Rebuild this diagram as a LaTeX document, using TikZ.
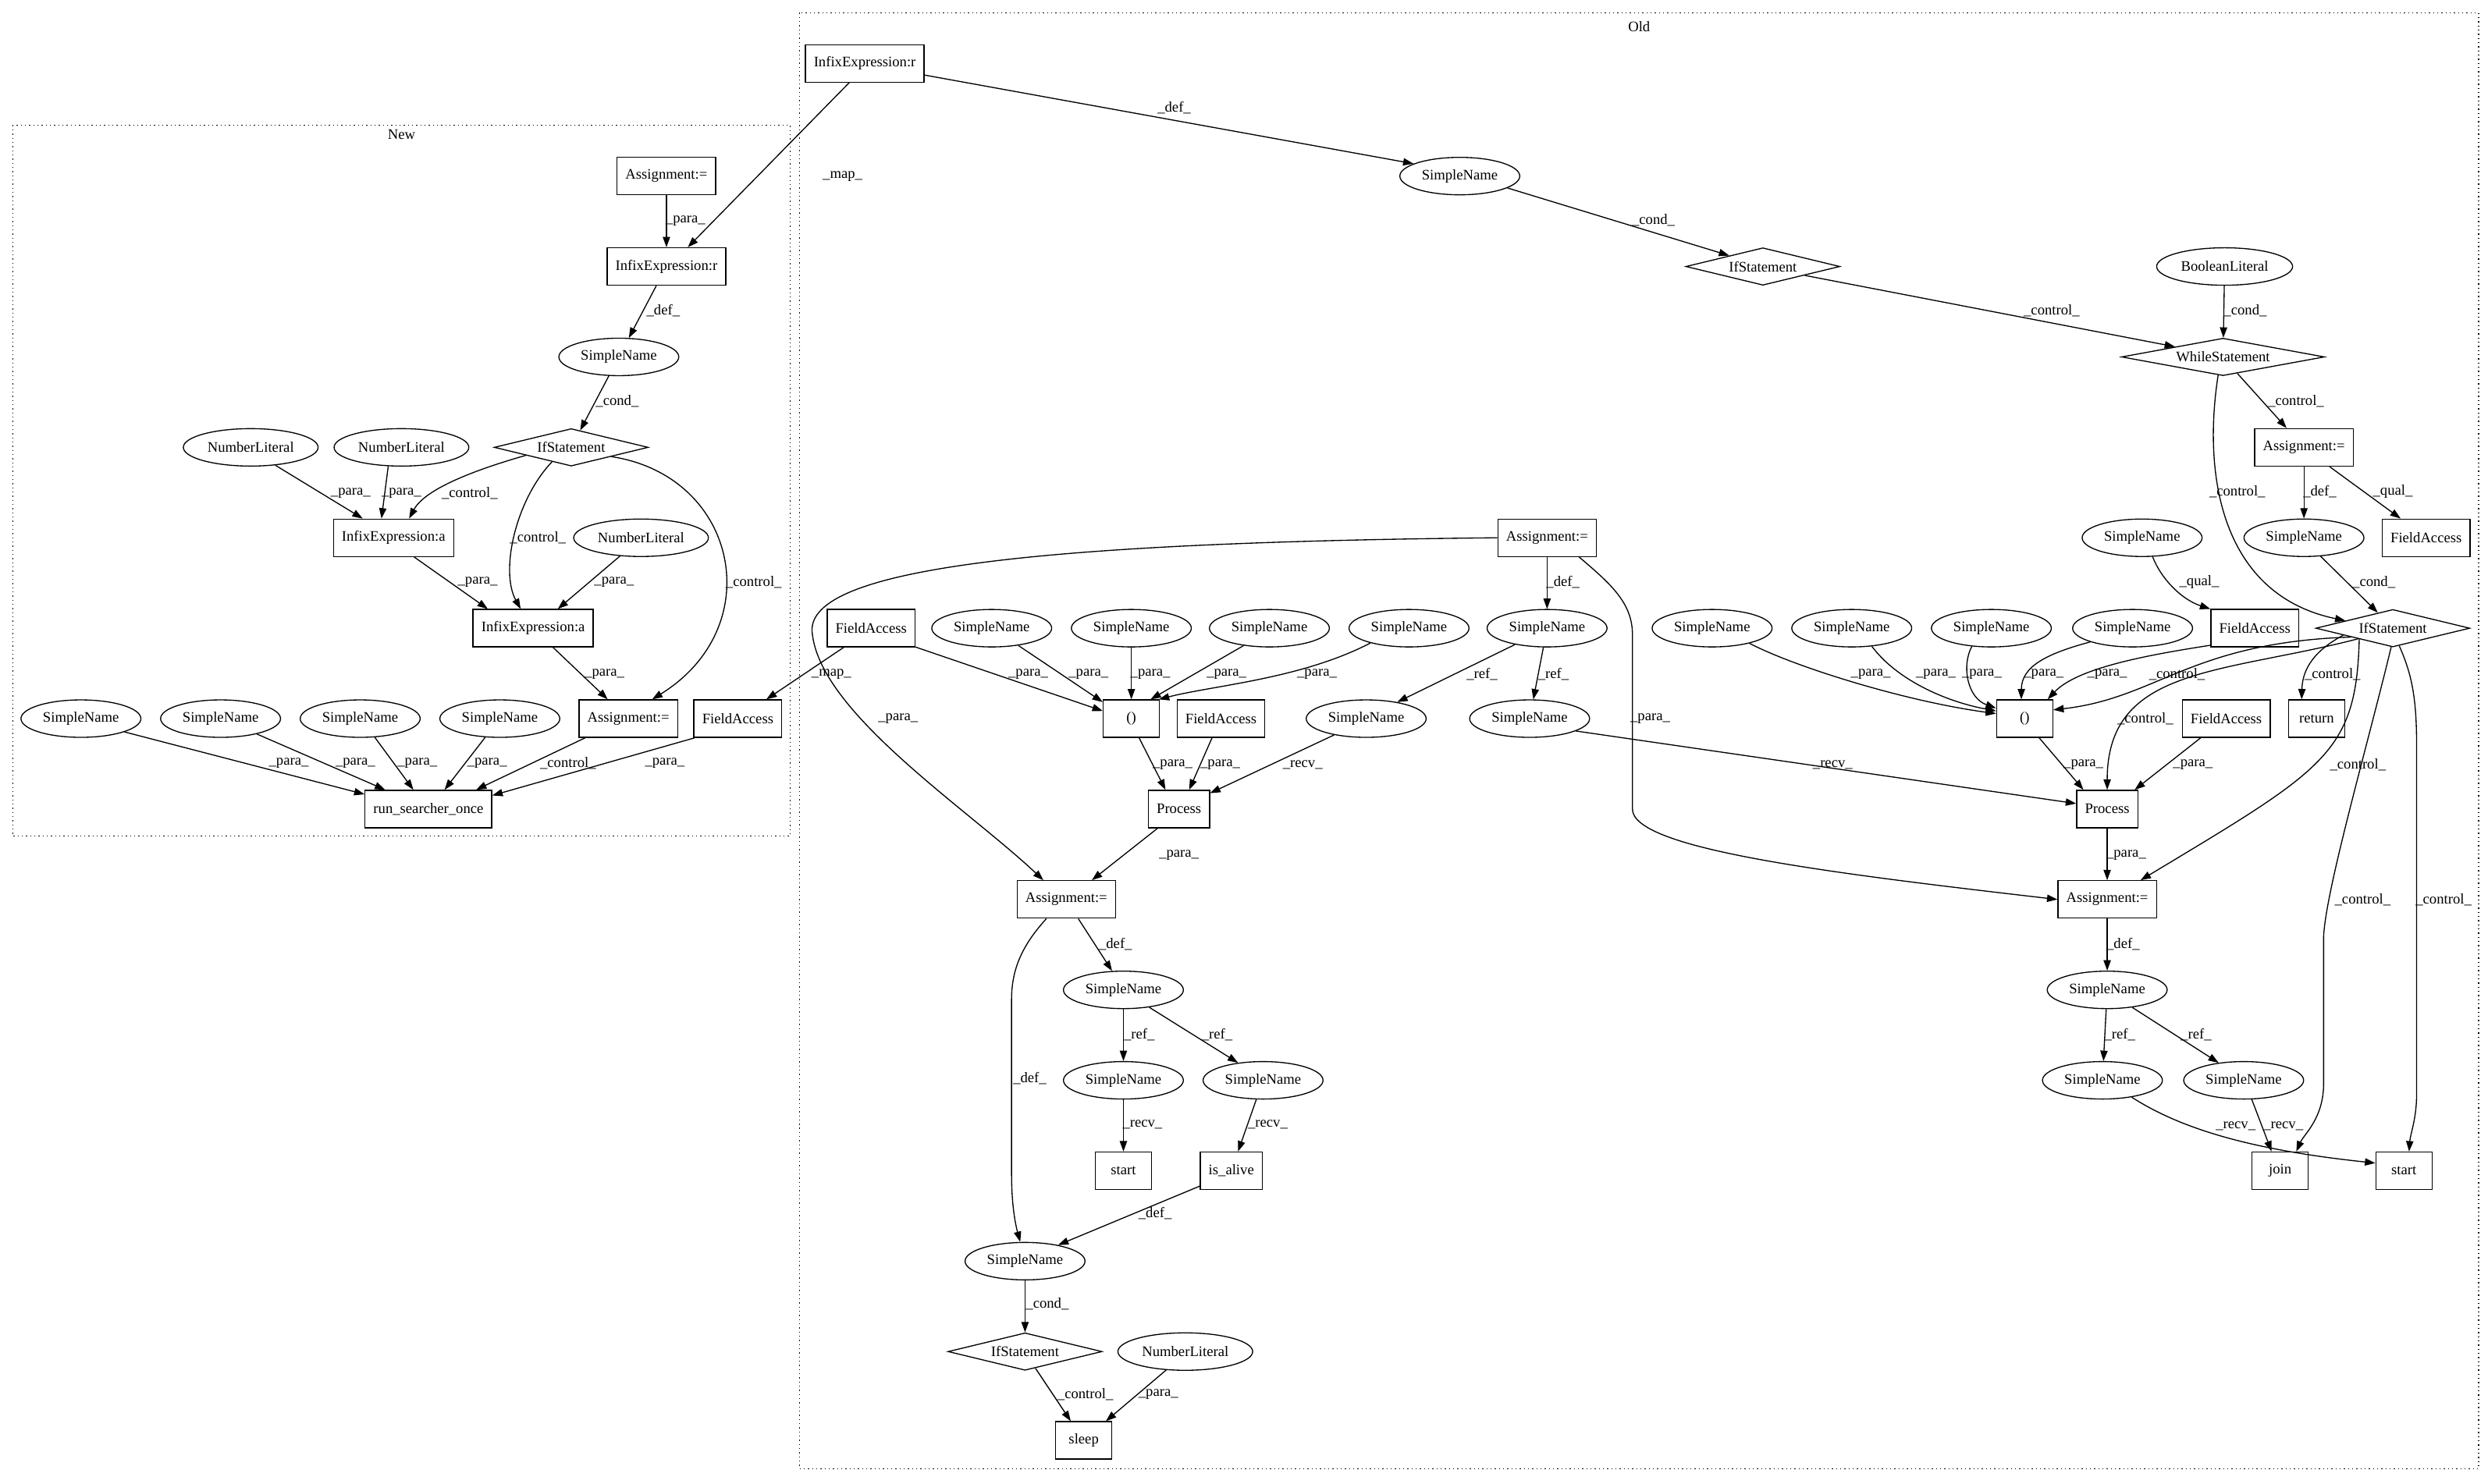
\documentclass[tikz,border=0pt]{standalone}
\usepackage{fontspec}
\setmainfont{Liberation Serif}
\usetikzlibrary{arrows.meta,shapes.geometric}
\newcommand{\gvfont}{\fontsize{14pt}{17pt}\selectfont}
\tikzset{
  box/.style={draw,rectangle,line width=1pt,minimum width=54pt,minimum height=36pt,inner xsep=8pt,inner ysep=0pt,font=\gvfont},
  oval/.style={draw,ellipse,line width=1pt,minimum height=36pt,inner xsep=4.2pt,inner ysep=0pt,font=\gvfont},
  cond/.style={draw,diamond,aspect=4,line width=1pt,inner sep=0pt,minimum height=36pt,minimum width=148pt,font=\gvfont},
  arr/.style={line width=1pt,-{Triangle[length=10pt,width=7pt]}},
  lbl/.style={font=\gvfont,inner sep=0pt},
  clus/.style={line width=1pt,dash pattern=on 1pt off 3pt}
}
\begin{document}
\begin{tikzpicture}[x=1.525pt,y=-1.525pt]
\useasboundingbox (0,0) rectangle (1568,935);
% clusters
\draw[clus] (8,79) rectangle (498,527);
\node[lbl] (newlab) at (253,85) {New};
\draw[clus] (504,8) rectangle (1562,926);
\node[lbl] (oldlab) at (1033,17) {Old};

% New
\node[box] (nAsg) at (420,111) {Assignment:=};
\node[box] (nInfR) at (420,168) {InfixExpression:r};
\node[oval] (nSN) at (390,225) {SimpleName};
\node[cond] (nIf) at (360,282) {IfStatement};
\node[oval] (nNL1) at (158,282) {NumberLiteral};
\node[oval] (nNL2) at (253,282) {NumberLiteral};
\node[box] (nInfA1) at (248,339) {InfixExpression:a};
\node[oval] (nNL3) at (404,339) {NumberLiteral};
\node[box] (nInfA2) at (336,396) {InfixExpression:a};
\node[box] (nAsg2) at (396,453) {Assignment:=};
\node[box] (nFA) at (465,453) {FieldAccess};
\foreach \i/\x in {1/51,2/139,3/227,4/315}
  \node[oval] (nSN\i) at (\x,453) {SimpleName};
\node[box] (nRun) at (270,510) {run\_searcher\_once};

% Old, top and right
\node[box] (oInfR) at (545,40) {InfixExpression:r};
\node[oval] (oSN) at (920,111) {SimpleName};
\node[cond] (oIf) at (1111,168) {IfStatement};
\node[oval] (oBool) at (1402,168) {BooleanLiteral};
\node[cond,minimum width=195pt] (oWhile) at (1401,225) {WhileStatement};
\node[box] (oAsgW) at (1452,282) {Assignment:=};
\node[oval] (oSNq) at (1350,339) {SimpleName};
\node[oval] (oSNw) at (1452,339) {SimpleName};
\node[box] (oFAq) at (1529,339) {FieldAccess};
\node[box] (oFA) at (1421,396) {FieldAccess};
\node[cond] (oIfB) at (1508,396) {IfStatement};
\foreach \i/\x in {a/1079,b/1167,c/1255,d/1344}
  \node[oval] (oR\i) at (\x,396) {SimpleName};
\node[box] (oParR) at (1276,453) {()};
\node[box] (oFAp) at (1403,453) {FieldAccess};
\node[box] (oRet) at (1460,453) {return};
\node[box] (oProcR) at (1328,510) {Process};
\node[box] (oAsgR) at (1328,567) {Assignment:=};
\node[oval] (oSNR) at (1328,624) {SimpleName};
\node[oval] (oSNRl) at (1325,681) {SimpleName};
\node[oval] (oSNRr) at (1414,681) {SimpleName};
\node[box] (oJoin) at (1437,738) {join};
\node[box] (oStartR) at (1515,738) {start};

% Old, left
\node[box] (oAsgB) at (975,339) {Assignment:=};
\node[box] (oFAm) at (549,396) {FieldAccess};
\foreach \i/\x in {a/625,b/713,c/800,d/888}
  \node[oval] (oL\i) at (\x,396) {SimpleName};
\node[oval] (oSNB) at (975,396) {SimpleName};
\node[box] (oParL) at (713,453) {()};
\node[box] (oFApL) at (769.5,453) {FieldAccess};
\node[oval] (oRef1) at (861,453) {SimpleName};
\node[oval] (oRef2) at (964,453) {SimpleName};
\node[box] (oProcL) at (743,510) {Process};
\node[box] (oAsgL) at (672,567) {Assignment:=};
\node[oval] (oSNL) at (708,624) {SimpleName};
\node[oval] (oSNLl) at (708,681) {SimpleName};
\node[oval] (oSNLr) at (796,681) {SimpleName};
\node[box] (oStartL) at (708,738) {start};
\node[box] (oAlive) at (776,738) {is\_alive};
\node[oval] (oSNc) at (646,795) {SimpleName};
\node[cond] (oIfL) at (646,852) {IfStatement};
\node[oval] (oNL) at (747,852) {NumberLiteral};
\node[box] (oSleep) at (683,908) {sleep};

% edges, New
\draw[arr] (nAsg) -- (nInfR) node[lbl] at (432,139) {\_para\_};
\draw[arr] (oInfR.231) -- (nInfR.42) node[lbl] at (531,111) {\_map\_};
\draw[arr] (nInfR) -- (nSN) node[lbl] at (418,196) {\_def\_};
\draw[arr] (nSN) -- (nIf) node[lbl] at (389,253) {\_cond\_};
\draw[arr] (nNL1.324) -- (nInfA1.148) node[lbl] at (221,311) {\_para\_};
\draw[arr] (nNL2.235) -- (nInfA1.122) node[lbl] at (253,311) {\_para\_};
\draw[arr] (nIf.190) .. controls (300,296) and (268,308) .. (nInfA1.51) node[lbl] at (296,311) {\_control\_};
\draw[arr] (nIf.217) .. controls (325,315) and (315,360) .. (nInfA2.123) node[lbl] at (339,339) {\_control\_};
\draw[arr] (nIf.347) .. controls (465,300) and (485,395) .. (nAsg2.39) node[lbl] at (475,367) {\_control\_};
\draw[arr] (nInfA1.317) -- (nInfA2.157) node[lbl] at (301,367) {\_para\_};
\draw[arr] (nNL3.221) -- (nInfA2.38) node[lbl] at (387,367) {\_para\_};
\draw[arr] (nInfA2.316) -- (nAsg2.137) node[lbl] at (381,425) {\_para\_};
\draw[arr] (oFAm.215) -- (nFA.34) node[lbl] at (524,425) {\_map\_};
\draw[arr] (nSN1.343) -- (nRun.167) node[lbl] at (182,481) {\_para\_};
\draw[arr] (nSN2.337) -- (nRun.156) node[lbl] at (224,481) {\_para\_};
\draw[arr] (nSN3.308) -- (nRun.128) node[lbl] at (263,481) {\_para\_};
\draw[arr] (nSN4.232) -- (nRun.50) node[lbl] at (307,481) {\_para\_};
\draw[arr] (nAsg2.204) -- (nRun.22) node[lbl] at (358,481) {\_control\_};
\draw[arr] (nFA.204) -- (nRun.12) node[lbl] at (419,481) {\_para\_};

% edges, Old top
\draw[arr] (oInfR.349) -- (oSN.165) node[lbl] at (740,68) {\_def\_};
\draw[arr] (oSN.346) -- (oIf.162) node[lbl] at (1042,139) {\_cond\_};
\draw[arr] (oIf.348) -- (oWhile.168) node[lbl] at (1293,196) {\_control\_};
\draw[arr] (oBool) -- (oWhile) node[lbl] at (1415,196) {\_cond\_};
\draw[arr] (oWhile.311) -- (oAsgW.132) node[lbl] at (1447,253) {\_control\_};
\draw[arr] (oWhile.255) .. controls (1388,300) and (1400,375) .. (oIfB.171) node[lbl] at (1410,310) {\_control\_};
\draw[arr] (oAsgW) -- (oSNw) node[lbl] at (1462,310) {\_def\_};
\draw[arr] (oAsgW.323) -- (oFAq.143) node[lbl] at (1508,310) {\_qual\_};
\draw[arr] (oSNw.312) -- (oIfB.134) node[lbl] at (1496,367) {\_cond\_};
\draw[arr] (oSNq.299) .. controls (1362,365) and (1375,378) .. (oFA.north west) node[lbl] at (1386,367) {\_qual\_};

% edges, Old right
\draw[arr] (oRa.338) .. controls (1130,420) and (1200,442) .. (oParR.170) node[lbl] at (1179,425) {\_para\_};
\draw[arr] (oRb.318) .. controls (1195,428) and (1225,442) .. (oParR.165) node[lbl] at (1220,425) {\_para\_};
\draw[arr] (oRc.223) .. controls (1236,420) and (1240,440) .. (oParR.160) node[lbl] at (1249,425) {\_para\_};
\draw[arr] (oRd.198) .. controls (1290,412) and (1274,420) .. (oParR.100) node[lbl] at (1288,425) {\_para\_};
\draw[arr] (oFA.201) .. controls (1360,412) and (1310,420) .. (oParR.40) node[lbl] at (1328,425) {\_para\_};
\draw[arr] (oIfB.192) .. controls (1380,405) and (1360,440) .. (oParR.17) node[lbl] at (1372,425) {\_control\_};
\draw[arr] (oIfB.197) .. controls (1400,425) and (1328,420) .. (oProcR.north) node[lbl] at (1352,453) {\_control\_};
\draw[arr] (oIfB.188) .. controls (1455,412) and (1451,425) .. (oRet.128) node[lbl] at (1470,425) {\_control\_};
\draw[arr] (oParR.307) -- (oProcR.141) node[lbl] at (1313,482) {\_para\_};
\draw[arr] (oFAp.217) -- (oProcR.35) node[lbl] at (1382,482) {\_para\_};
\draw[arr] (oRef2.345) -- (oProcR.170) node[lbl] at (1155,482) {\_recv\_};
\draw[arr] (oProcR) -- (oAsgR) node[lbl] at (1340,539) {\_para\_};
\draw[arr] (oIfB.198) .. controls (1485,475) and (1465,485) .. (oAsgR.30) node[lbl] at (1486,482) {\_control\_};
\draw[arr] (oAsgR) -- (oSNR) node[lbl] at (1338,595) {\_def\_};
\draw[arr] (oSNR) -- (oSNRl) node[lbl] at (1336,652) {\_ref\_};
\draw[arr] (oSNR.325) -- (oSNRr.145) node[lbl] at (1384,652) {\_ref\_};
\draw[arr] (oSNRl.330) .. controls (1375,712) and (1420,725) .. (oStartR.165) node[lbl] at (1409,710) {\_recv\_};
\draw[arr] (oSNRr.293) -- (oJoin.114) node[lbl] at (1439,710) {\_recv\_};
\draw[arr] (oIfB.265) .. controls (1492,470) and (1466,560) .. (1464.4,590) -- (1464.4,683)
  .. controls (1464.4,705) and (1452,715) .. (oJoin.50) node[lbl] at (1489,567) {\_control\_};
\draw[arr] (oIfB.290) .. controls (1520,425) and (1523,440) .. (1523,470) -- (1523,690)
  .. controls (1523,705) and (1519,715) .. (oStartR.75) node[lbl] at (1540,567) {\_control\_};

% edges, Old left
\draw[arr] (oAsgB.west) .. controls (640,342) and (505,360) .. (512,400)
  .. controls (518,450) and (610,510) .. (oAsgL.140) node[lbl] at (566,453) {\_para\_};
\draw[arr] (oAsgB) -- (oSNB) node[lbl] at (985,367) {\_def\_};
\draw[arr] (oAsgB.329) .. controls (1015,368) and (1028.8,380) .. (1028.8,400) -- (1028.8,510)
  .. controls (1028.8,535) and (1150,550) .. (oAsgR.west) node[lbl] at (1040,453) {\_para\_};
\draw[arr] (oFAm.337) -- (oParL.165) node[lbl] at (648,425) {\_para\_};
\draw[arr] (oLa.327) -- (oParL.150) node[lbl] at (686,425) {\_para\_};
\draw[arr] (oLb) -- (oParL) node[lbl] at (725,425) {\_para\_};
\draw[arr] (oLc.214) -- (oParL.45) node[lbl] at (773,425) {\_para\_};
\draw[arr] (oLd.201) .. controls (820,428) and (765,432) .. (oParL.35) node[lbl] at (830,425) {\_para\_};
\draw[arr] (oSNB.207) -- (oRef1.28) node[lbl] at (934,425) {\_ref\_};
\draw[arr] (oSNB) -- (oRef2) node[lbl] at (979,425) {\_ref\_};
\draw[arr] (oRef1.207) -- (oProcL.27) node[lbl] at (821,482) {\_recv\_};
\draw[arr] (oParL.292) -- (oProcL.125) node[lbl] at (739,482) {\_para\_};
\draw[arr] (oFApL.245) -- (oProcL.62) node[lbl] at (769,482) {\_para\_};
\draw[arr] (oProcL.222) -- (oAsgL.37) node[lbl] at (743,539) {\_para\_};
\draw[arr] (oAsgL.302) -- (oSNL.121) node[lbl] at (703,595) {\_def\_};
\draw[arr] (oAsgL.224) .. controls (645,595) and (637.5,610) .. (637.5,630) -- (637.5,740)
  .. controls (637.5,760) and (640,772) .. (oSNc.104) node[lbl] at (649,680) {\_def\_};
\draw[arr] (oSNL) -- (oSNLl) node[lbl] at (718,652) {\_ref\_};
\draw[arr] (oSNL.326) -- (oSNLr.145) node[lbl] at (767,652) {\_ref\_};
\draw[arr] (oSNLl) -- (oStartL) node[lbl] at (720,709) {\_recv\_};
\draw[arr] (oSNLr) -- (oAlive) node[lbl] at (799,709) {\_recv\_};
\draw[arr] (oAlive.206) -- (oSNc.26) node[lbl] at (728,765) {\_def\_};
\draw[arr] (oSNc) -- (oIfL) node[lbl] at (660,822) {\_cond\_};
\draw[arr] (oIfL.302) -- (oSleep.124) node[lbl] at (684,879) {\_control\_};
\draw[arr] (oNL.224) -- (oSleep.41) node[lbl] at (730,879) {\_para\_};
\end{tikzpicture}
\end{document}
